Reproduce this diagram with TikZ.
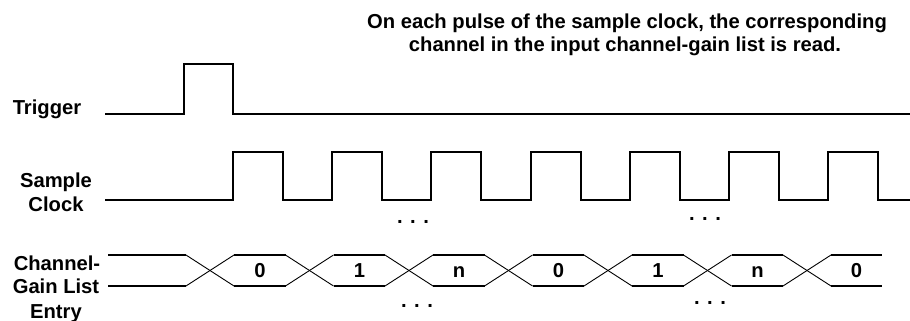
\documentclass[tikz,border=0pt]{standalone}
\usepackage{fontspec}
\setmainfont{Liberation Sans}
\begin{document}
\begin{tikzpicture}[x=1pt,y=-1pt,
  lbl/.style={font=\fontsize{20.2}{24}\selectfont\bfseries, inner sep=0pt, anchor=base},
  sig/.style={line width=2pt, line join=miter},
  bus/.style={line width=1.6pt},
  xing/.style={line width=0.9pt}]
\useasboundingbox (0,0) rectangle (910,321);

% top note
\node[lbl] (note1) at (627,29) {On each pulse of the sample clock, the corresponding};
\node[lbl] (note2) at (625,52) {channel in the input channel-gain list is read.};

% signal names
\node[lbl] (trig) at (47,114) {Trigger};
\node[lbl] (samp) at (56,187) {Sample};
\node[lbl] (clk)  at (56,211) {Clock};
\node[lbl] (chan) at (57,270) {Channel-};
\node[lbl] (gain) at (56,293) {Gain List};
\node[lbl] (entr) at (56,318) {Entry};

% trigger
\coordinate (t0) at (105,114);
\coordinate (t1) at (910,114);
\draw[sig] (t0) -- (184,114) -- (184,64) -- (233,64) -- (233,114) -- (t1);

% sample clock
\coordinate (c0) at (105,200);
\coordinate (c1) at (910,200);
\draw[sig] (c0) foreach \i in {0,...,6} {
   -- ({233+99.2*\i},200) -- ({233+99.2*\i},152) -- ({283+99.2*\i},152) -- ({283+99.2*\i},200) } -- (c1);

% channel-gain list bus
\coordinate (b0) at (108,255);
\coordinate (b1) at (108,286);
\draw[bus] (b0) -- (186,255);
\draw[bus] (b1) -- (186,286);
\foreach \i in {0,...,6} {
  \pgfmathsetmacro{\c}{210+99.5*\i}
  \draw[xing] ({\c-24},255) -- ({\c+24},286);
  \draw[xing] ({\c-24},286) -- ({\c+24},255);
}
\foreach \i in {0,...,5} {
  \pgfmathsetmacro{\a}{210+99.5*\i+24}
  \pgfmathsetmacro{\b}{210+99.5*(\i+1)-24}
  \draw[bus] (\a,255) -- (\b,255);
  \draw[bus] (\a,286) -- (\b,286);
}
\draw[bus] (831,255) -- (882,255);
\draw[bus] (831,286) -- (882,286);

\node[lbl] (v0) at (260,277) {0};
\node[lbl] (v1) at (359.5,277) {1};
\node[lbl] (v2) at (459,277) {n};
\node[lbl] (v3) at (558.5,277) {0};
\node[lbl] (v4) at (658,277) {1};
\node[lbl] (v5) at (757.5,277) {n};
\node[lbl] (v6) at (856.5,277) {0};

% ellipses
\node[lbl] (d1) at (413,223.5) {. . .};
\node[lbl] (d2) at (705,220.5) {. . .};
\node[lbl] (d3) at (417,307.5) {. . .};
\node[lbl] (d4) at (710,304.5) {. . .};
\end{tikzpicture}
\end{document}
